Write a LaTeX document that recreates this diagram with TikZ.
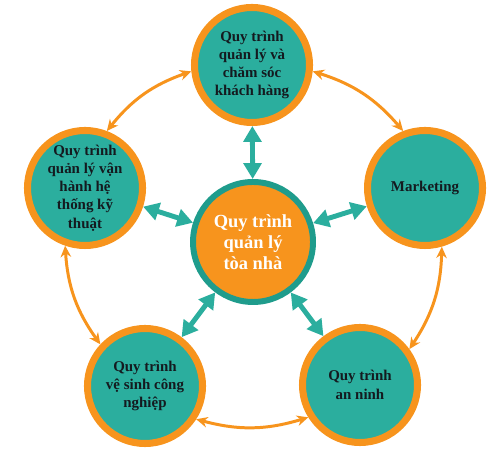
\documentclass[tikz,border=0pt]{standalone}
\usepackage{fontspec}
\setmainfont{Liberation Serif}
\usetikzlibrary{arrows.meta}

\definecolor{tealfill}{HTML}{2BAE9E}
\definecolor{tealedge}{HTML}{1F9C8C}
\definecolor{orangemain}{HTML}{F7941D}
\definecolor{textdark}{HTML}{141A1F}

\begin{document}
\begin{tikzpicture}[
  font=\bfseries,
  proc/.style={circle, draw=orangemain, line width=4pt, fill=tealfill, minimum size=2.3cm, inner sep=0pt, align=center, text=textdark, font=\bfseries\fontsize{8.5}{10.4}\selectfont},
  hub/.style={circle, draw=tealedge, line width=3.4pt, fill=orangemain, minimum size=2.4cm, inner sep=0pt, align=center, text=white, font=\bfseries\fontsize{10.5}{11.8}\selectfont},
  spoke/.style={draw=tealfill, line width=2.8pt, {Triangle[width=10pt,length=9pt]}-{Triangle[width=10pt,length=9pt]}},
  ring/.style={draw=orangemain, line width=1.7pt, {Stealth[width=6pt,length=6.5pt]}-{Stealth[width=6pt,length=6.5pt]}, bend left=16}
]
\useasboundingbox (0,0) rectangle (10,9.48);
% -------------------------------------------------------------------------
% HUB AND PROCESSES
% -------------------------------------------------------------------------
\node[hub] (hub) at (5.06,4.64) {Quy trình\\ quản lý\\ tòa nhà};
\node[proc] (care) at (5.04,8.18) {Quy trình\\ quản lý và\\ chăm sóc\\ khách hàng};
\node[proc] (tech) at (1.70,5.72) {Quy trình\\ quản lý vận\\ hành hệ\\ thống kỹ\\ thuật};
\node[proc] (mkt) at (8.50,5.72) {Marketing};
\node[proc] (clean) at (2.90,1.76) {Quy trình\\ vệ sinh công\\ nghiệp};
\node[proc] (secu) at (7.20,1.78) {Quy trình\\ an ninh};
% -------------------------------------------------------------------------
% LINKS
% -------------------------------------------------------------------------
\foreach \n in {care,tech,mkt,clean,secu}
  \draw[spoke] (hub) -- (\n);
\draw[ring] (tech.69) to (care.186);
\draw[ring] (care.354) to (mkt.111);
\draw[ring] (mkt.286) to (secu.36);
\draw[ring] (secu.212) to (clean.327);
\draw[ring] (clean.137) to (tech.251);
\end{tikzpicture}
\end{document}
